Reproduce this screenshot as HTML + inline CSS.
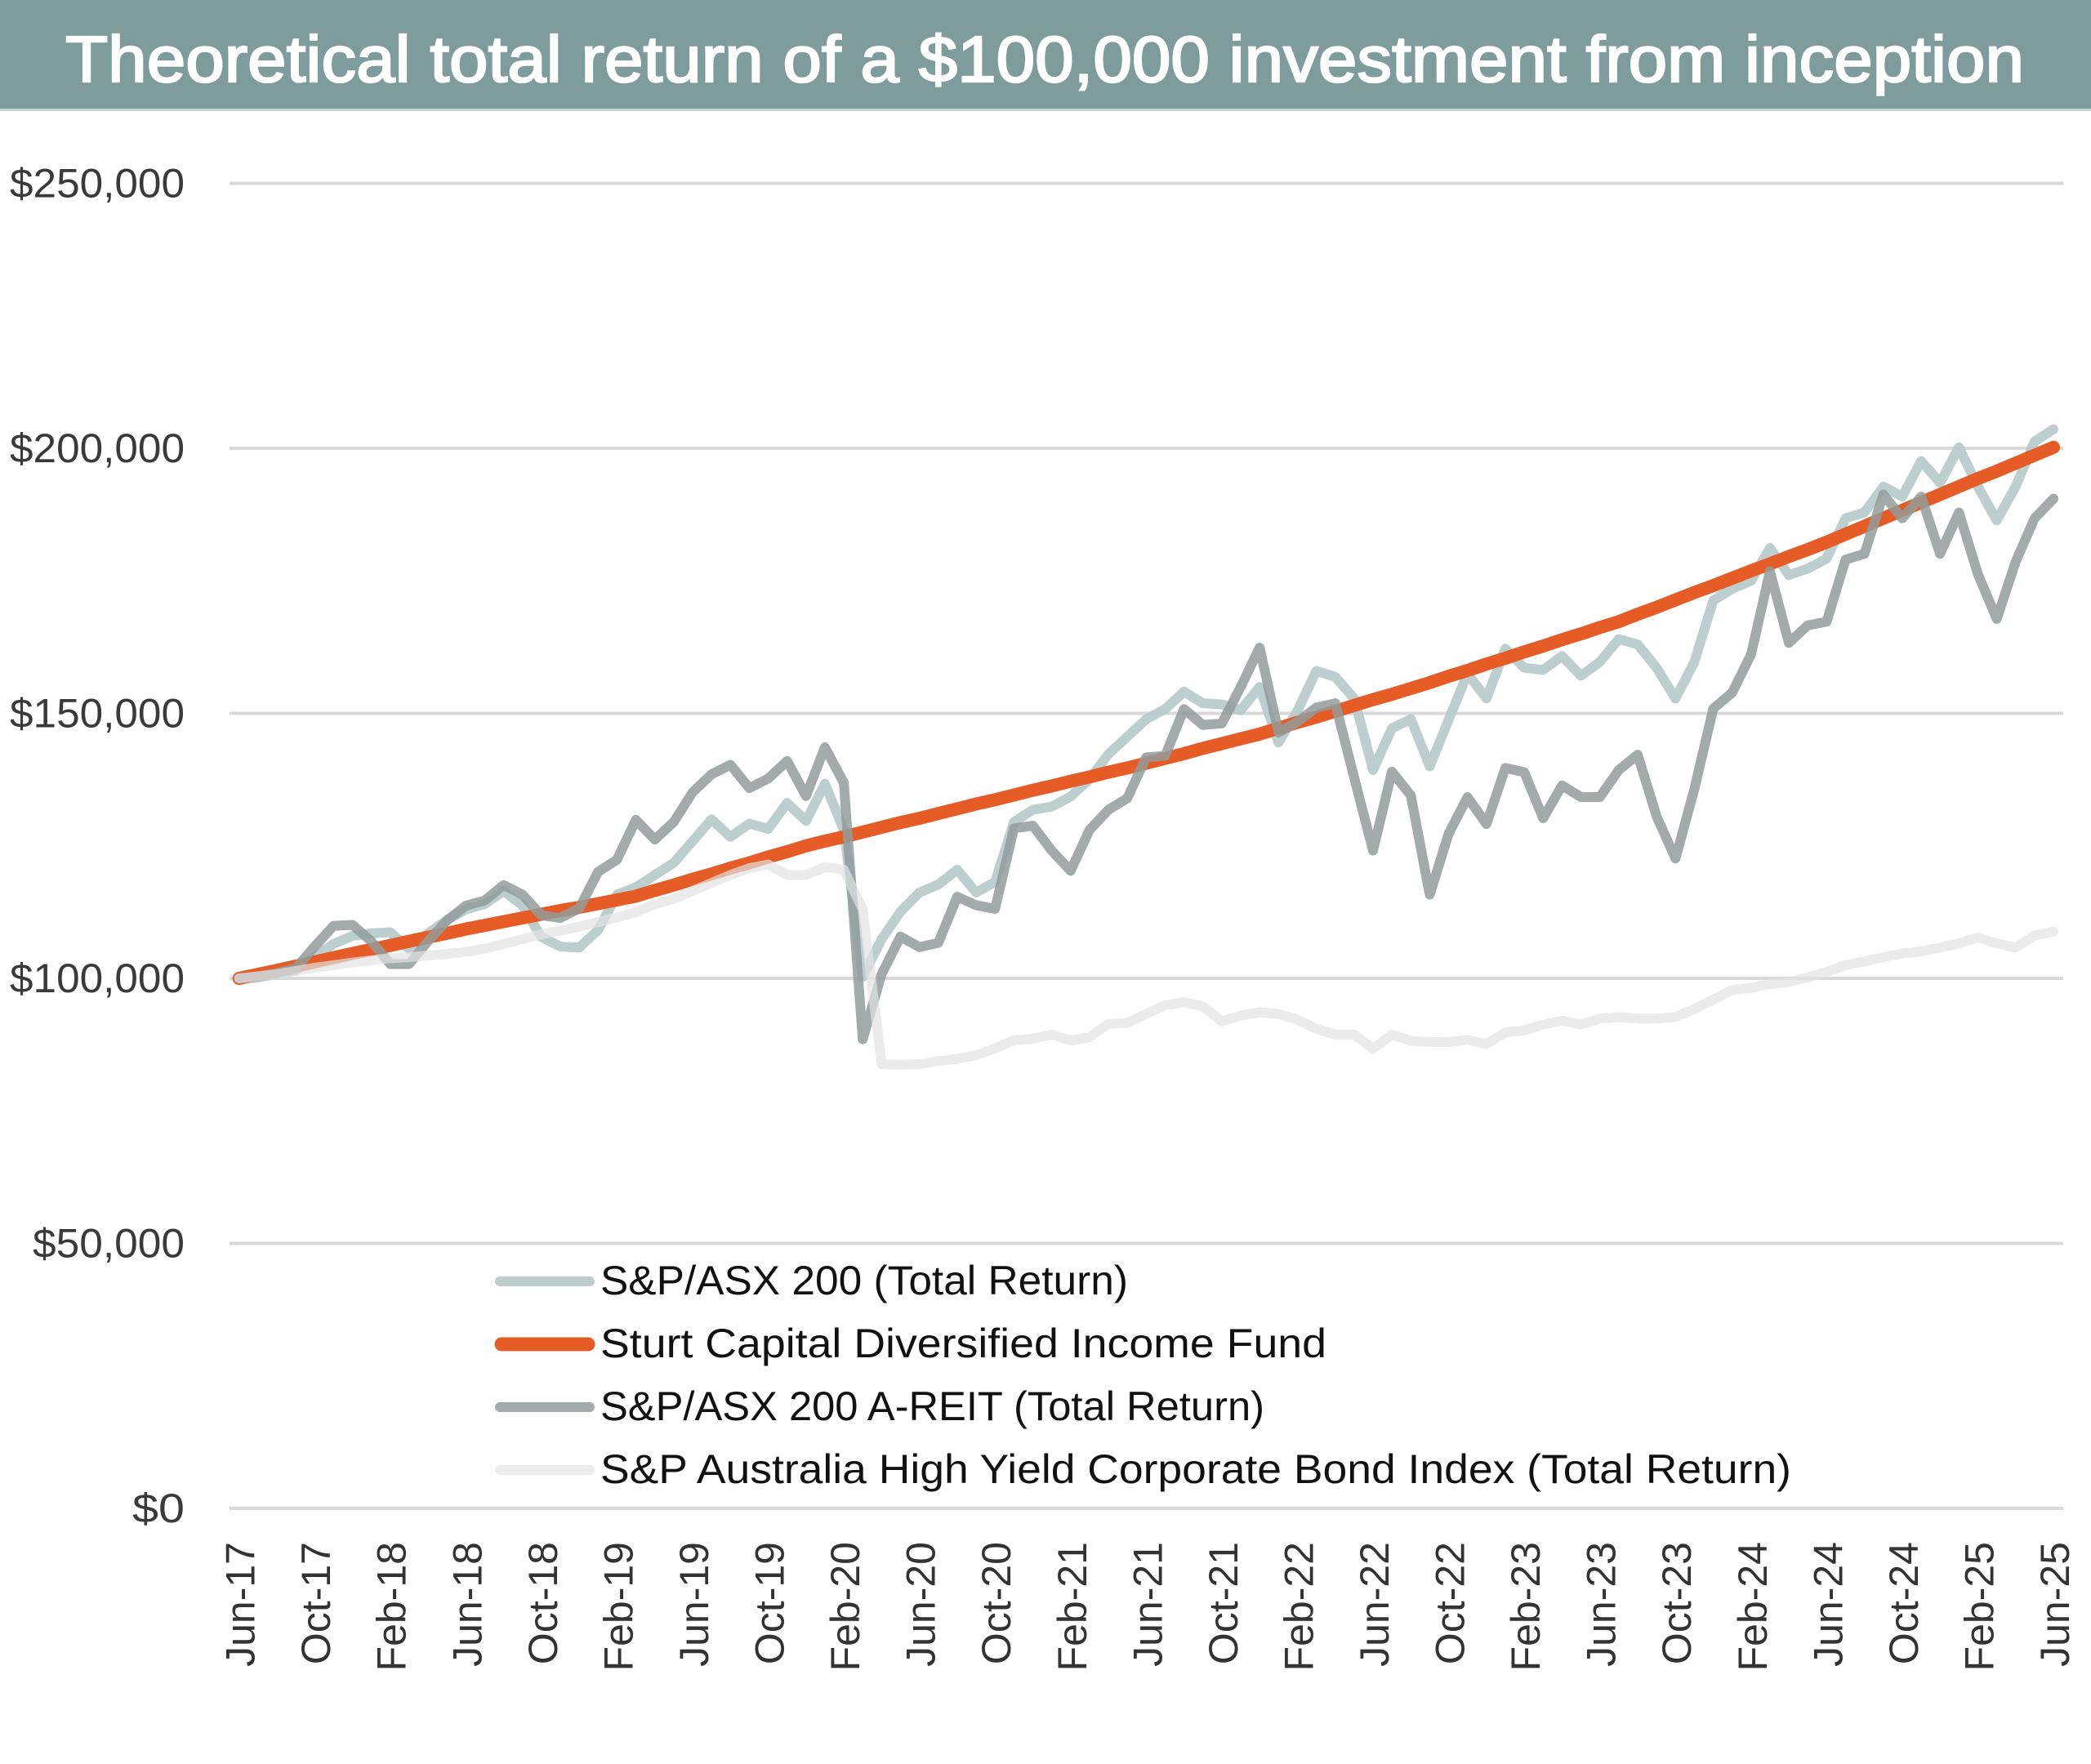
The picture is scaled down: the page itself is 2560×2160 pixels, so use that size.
<!DOCTYPE html>
<html>
<head>
<meta charset="utf-8">
<style>
html,body{margin:0;padding:0;background:#fff;}
svg{display:block;}
</style>
</head>
<body>
<svg xmlns="http://www.w3.org/2000/svg" width="2560" height="2160" viewBox="0 0 2560 2160" font-family="'Liberation Sans', Arial, sans-serif">
<rect x="0" y="0" width="2560" height="2160" fill="#ffffff"/>
<!-- Title bar -->
<rect x="0" y="0" width="2560" height="135" fill="#7f9c9c"/>
<rect x="0" y="133" width="2560" height="3" fill="#c4d5d5"/>
<text x="80" y="100" font-size="80" fill="#ffffff" stroke="#ffffff" stroke-width="2.2" textLength="2398" lengthAdjust="spacingAndGlyphs">Theoretical total return of a $100,000 investment from inception</text>

<!-- Gridlines -->
<g stroke="#d9d9d9" stroke-width="4">
<line x1="281" x2="2526" y1="224.5" y2="224.5"/>
<line x1="281" x2="2526" y1="549" y2="549"/>
<line x1="281" x2="2526" y1="873.5" y2="873.5"/>
<line x1="281" x2="2526" y1="1198" y2="1198"/>
<line x1="281" x2="2526" y1="1522.5" y2="1522.5"/>
<line x1="281" x2="2526" y1="1847" y2="1847"/>
</g>

<!-- Y labels -->
<g font-size="50" fill="#3a3a3a" text-anchor="end">
<text x="226" y="241.5" textLength="214" lengthAdjust="spacingAndGlyphs">$250,000</text>
<text x="226" y="566" textLength="214" lengthAdjust="spacingAndGlyphs">$200,000</text>
<text x="226" y="890.5" textLength="214" lengthAdjust="spacingAndGlyphs">$150,000</text>
<text x="226" y="1215" textLength="214" lengthAdjust="spacingAndGlyphs">$100,000</text>
<text x="226" y="1539.5" textLength="186" lengthAdjust="spacingAndGlyphs">$50,000</text>
<text x="226" y="1864" textLength="64" lengthAdjust="spacingAndGlyphs">$0</text>
</g>

<!-- Series -->
<g transform="translate(292.6 1847) scale(23.14 -6.49)" fill="none" stroke-linejoin="round" stroke-linecap="round">
<polyline vector-effect="non-scaling-stroke" stroke="#b6c9c9" stroke-opacity="0.9" stroke-width="12" points="0,100 1,100.2 2,100.8 3,101.5 4,104 5,106.5 6,108 7,108.5 8,108.7 9,105.5 10,108.5 11,111 12,113 13,114 14,116.5 15,113.7 16,107.8 17,106 18,105.8 19,109.1 20,115.8 21,117.2 22,119.5 23,121.8 24,125.9 25,130 26,126.7 27,129.2 28,128.2 29,133.1 30,129.7 31,136.7 32,128 33,100.3 34,107.4 35,112.6 36,116.2 37,117.7 38,120.5 39,116.2 40,118.2 41,129.5 42,131.8 43,132.4 44,134.3 45,137.6 46,142.3 47,145.6 48,148.9 49,150.8 50,154.1 51,151.9 52,151.7 53,150.6 54,155 55,144.5 56,150.5 57,158 58,156.9 59,152.8 60,139.3 61,147.2 62,148.9 63,140 64,148.8 65,157.5 66,152.8 67,162.2 68,158.6 69,158.2 70,160.8 71,157.1 72,159.7 73,164 74,163 75,158.6 76,152.8 77,159.7 78,171.3 79,173.5 80,175 81,181.2 82,176.1 83,177.3 84,179.2 85,186.8 86,187.9 87,192.8 88,190.9 89,197.6 90,193.5 91,200.2 92,192.8 93,186.4 94,192.8 95,201.3 96,203.6"/>
<polyline vector-effect="non-scaling-stroke" stroke="#e55c27" stroke-width="16" points="0,100 1,100.75 2,101.5 3,102.3 4,103.1 5,103.9 6,104.7 7,105.45 8,106.2 9,107 10,107.75 11,108.5 12,109.3 13,110 14,110.7 15,111.4 16,112.1 17,112.8 18,113.4 19,114.1 20,114.8 21,115.5 22,116.6 23,117.6 24,118.7 25,119.7 26,120.8 27,121.8 28,122.9 29,123.9 30,125 31,125.9 32,126.7 33,127.6 34,128.5 35,129.4 36,130.2 37,131.1 38,132 39,132.9 40,133.7 41,134.6 42,135.5 43,136.3 44,137.2 45,138 46,138.9 47,139.7 48,140.6 49,141.5 50,142.4 51,143.4 52,144.3 53,145.2 54,146.1 55,147.2 56,148.3 57,149.3 58,150.4 59,151.5 60,152.6 61,153.6 62,154.7 63,155.8 64,157 65,158.1 66,159.3 67,160.4 68,161.6 69,162.7 70,163.9 71,165 72,166.2 73,167.3 74,168.7 75,170 76,171.4 77,172.8 78,174.1 79,175.5 80,176.9 81,178.2 82,179.6 83,180.9 84,182.3 85,183.8 86,185.3 87,186.8 88,188.3 89,189.8 90,191.3 91,192.8 92,194.3 93,195.7 94,197.2 95,198.7 96,200.2"/>
<polyline vector-effect="non-scaling-stroke" stroke="#929b9b" stroke-opacity="0.85" stroke-width="12" points="0,100 1,100.3 2,101 3,101.9 4,106 5,109.9 6,110.1 7,107 8,102.7 9,102.7 10,107 11,110.9 12,113.7 13,114.7 14,117.6 15,115.8 16,111.9 17,111.4 18,113.2 19,120.1 20,122.4 21,129.9 22,126.2 23,129.5 24,135.1 25,138.5 26,140.3 27,135.9 28,137.7 29,141 30,134.4 31,143.6 32,136.9 33,88.5 34,100.8 35,107.9 36,105.9 37,106.7 38,115.4 39,113.8 40,113.1 41,128.3 42,128.8 43,124.1 44,120.3 45,128 46,131.8 47,134 48,141.7 49,142 50,150.8 51,147.8 52,148.1 53,155 54,162.4 55,146.4 56,148.4 57,151.1 58,151.9 59,137.9 60,124.1 61,139 62,134.5 63,115.8 64,127.3 65,134.2 66,129.1 67,139.7 68,138.9 69,130.2 70,136.4 71,134.2 72,134.2 73,139.3 74,142.2 75,130.6 76,122.6 77,135.7 78,150.9 79,153.9 80,161.1 81,176.8 82,163.3 83,166.6 84,167.3 85,179 86,180.1 87,191.3 88,186.8 89,190.9 90,180.1 91,187.9 92,176.3 93,167.8 94,178.6 95,186.8 96,190.5"/>
<polyline vector-effect="non-scaling-stroke" stroke="#e3e3e3" stroke-opacity="0.7" stroke-width="12" points="0,100 1,100.4 2,100.8 3,101.4 4,102 5,102.5 6,103 7,103.4 8,103.8 9,104 10,104.3 11,104.6 12,105 13,105.6 14,106.5 15,107.4 16,108.3 17,109 18,109.8 19,110.6 20,111.5 21,112.5 22,114 23,115 24,116.5 25,118 26,119.5 27,120.8 28,121.5 29,119.5 30,119.5 31,121 32,120.5 33,113 34,83.8 35,83.7 36,83.8 37,84.4 38,84.8 39,85.5 40,86.8 41,88.3 42,88.6 43,89.4 44,88.3 45,88.9 46,91.4 47,91.6 48,93.3 49,94.9 50,95.5 51,94.7 52,91.9 53,93 54,93.6 55,93.3 56,92.2 57,90.5 58,89.4 59,89.4 60,86.7 61,89.4 62,88.2 63,88 64,88 65,88.4 66,87.6 67,89.8 68,90.2 69,91.3 70,92 71,91.3 72,92.4 73,92.7 74,92.4 75,92.4 76,92.7 77,94.2 78,96 79,97.8 80,98.2 81,98.9 82,99.3 83,100.2 84,101.2 85,102.5 86,103.2 87,104 88,104.7 89,105.1 90,105.8 91,106.6 92,107.7 93,106.6 94,105.8 95,108.1 96,108.8"/>
</g>

<!-- Legend -->
<g stroke-linecap="round">
<line x1="612" x2="722" y1="1569" y2="1569" stroke="#bdcece" stroke-width="12"/>
<line x1="614" x2="720" y1="1646" y2="1646" stroke="#e55c27" stroke-width="17"/>
<line x1="612" x2="722" y1="1723" y2="1723" stroke="#a3aaaa" stroke-width="12"/>
<line x1="612" x2="722" y1="1800" y2="1800" stroke="#ececec" stroke-width="12"/>
</g>
<g font-size="50" fill="#111111">
<text x="735" y="1585" textLength="646" lengthAdjust="spacingAndGlyphs">S&amp;P/ASX 200 (Total Return)</text>
<text x="735" y="1662" textLength="889" lengthAdjust="spacingAndGlyphs">Sturt Capital Diversified Income Fund</text>
<text x="735" y="1739" textLength="813" lengthAdjust="spacingAndGlyphs">S&amp;P/ASX 200 A-REIT (Total Return)</text>
<text x="735" y="1816" textLength="1458" lengthAdjust="spacingAndGlyphs">S&amp;P Australia High Yield Corporate Bond Index (Total Return)</text>
</g>

<!-- X labels -->
<g font-size="50" fill="#333333" text-anchor="end">
<text transform="translate(311.6 1888) rotate(-90)">Jun-17</text>
<text transform="translate(404.2 1888) rotate(-90)">Oct-17</text>
<text transform="translate(496.7 1888) rotate(-90)">Feb-18</text>
<text transform="translate(589.3 1888) rotate(-90)">Jun-18</text>
<text transform="translate(681.8 1888) rotate(-90)">Oct-18</text>
<text transform="translate(774.4 1888) rotate(-90)">Feb-19</text>
<text transform="translate(867 1888) rotate(-90)">Jun-19</text>
<text transform="translate(959.5 1888) rotate(-90)">Oct-19</text>
<text transform="translate(1052.1 1888) rotate(-90)">Feb-20</text>
<text transform="translate(1144.6 1888) rotate(-90)">Jun-20</text>
<text transform="translate(1237.2 1888) rotate(-90)">Oct-20</text>
<text transform="translate(1329.8 1888) rotate(-90)">Feb-21</text>
<text transform="translate(1422.3 1888) rotate(-90)">Jun-21</text>
<text transform="translate(1514.9 1888) rotate(-90)">Oct-21</text>
<text transform="translate(1607.4 1888) rotate(-90)">Feb-22</text>
<text transform="translate(1700 1888) rotate(-90)">Jun-22</text>
<text transform="translate(1792.6 1888) rotate(-90)">Oct-22</text>
<text transform="translate(1885.1 1888) rotate(-90)">Feb-23</text>
<text transform="translate(1977.7 1888) rotate(-90)">Jun-23</text>
<text transform="translate(2070.2 1888) rotate(-90)">Oct-23</text>
<text transform="translate(2162.8 1888) rotate(-90)">Feb-24</text>
<text transform="translate(2255.4 1888) rotate(-90)">Jun-24</text>
<text transform="translate(2347.9 1888) rotate(-90)">Oct-24</text>
<text transform="translate(2440.5 1888) rotate(-90)">Feb-25</text>
<text transform="translate(2533 1888) rotate(-90)">Jun-25</text>
</g>
</svg>
</body>
</html>
